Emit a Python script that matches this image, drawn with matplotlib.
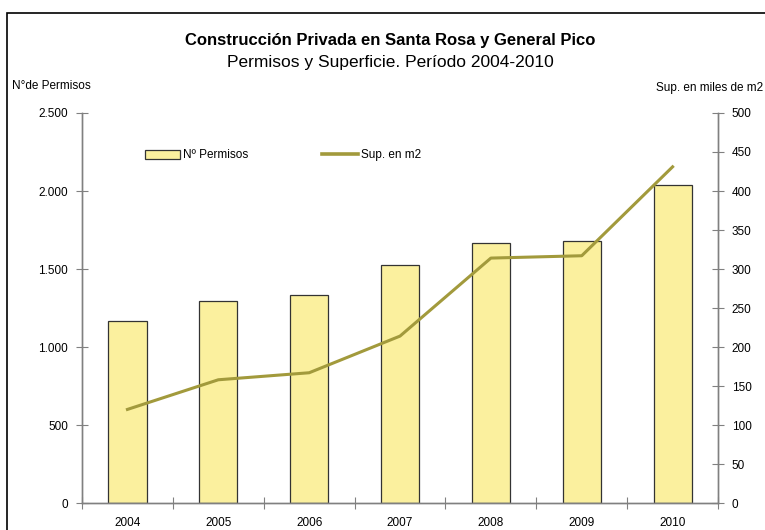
import matplotlib
matplotlib.use("Agg")
import matplotlib.pyplot as plt
from matplotlib.patches import Patch, Rectangle
from matplotlib.lines import Line2D
from matplotlib.ticker import FuncFormatter

plt.rcParams['font.family'] = ['Liberation Sans', 'DejaVu Sans']

years = ['2004', '2005', '2006', '2007', '2008', '2009', '2010']
permisos = [1167, 1295, 1333, 1526, 1667, 1679, 2038]
superficie = [120, 158, 167, 214, 314, 317, 431]

bar_color = '#FBF09E'
line_color = '#A29A3C'
axis_gray = '#808080'

fig = plt.figure(figsize=(7.65, 5.30), dpi=100)
ax = fig.add_axes([0.1072, 0.0509, 0.8314, 0.7359])
ax2 = ax.twinx()

x = list(range(len(years)))
ax.bar(x, permisos, width=0.42, color=bar_color, edgecolor='#333333', linewidth=0.9, zorder=2)
ax2.plot(x, superficie, color=line_color, linewidth=2.2, zorder=3)

ax.set_xlim(-0.5, len(years) - 0.5)
ax.set_ylim(0, 2500)
ax2.set_ylim(0, 500)
ax.set_yticks(range(0, 2501, 500))
ax2.set_yticks(range(0, 501, 50))
ax.yaxis.set_major_formatter(FuncFormatter(lambda v, p: f"{int(v):,}".replace(',', '.')))

# x ticks at category boundaries, labels centred under bars
ax.set_xticks([i - 0.5 for i in range(len(years) + 1)])
ax.set_xticklabels([])
ax.set_xticks(x, minor=True)
ax.set_xticklabels(years, minor=True)
ax.tick_params(axis='x', which='minor', length=0, pad=10, labelsize=8.5)
ax.tick_params(axis='x', which='major', direction='inout', length=8, color=axis_gray)
ax.tick_params(axis='y', direction='inout', length=8, color=axis_gray, labelsize=8.5, pad=6)
ax2.tick_params(axis='y', direction='inout', length=8, color=axis_gray, labelsize=8.5, pad=6)

for a in (ax, ax2):
    a.spines['top'].set_visible(False)
    for s in ('left', 'right', 'bottom'):
        a.spines[s].set_color(axis_gray)
        a.spines[s].set_linewidth(1.0)

fig.text(0.51, 0.923, 'Construcción Privada en Santa Rosa y General Pico',
         ha='center', va='center', fontsize=12, fontweight='bold')
fig.text(0.51, 0.882, 'Permisos y Superficie. Período 2004-2010',
         ha='center', va='center', fontsize=12.5)
fig.text(0.016, 0.838, 'N°de Permisos', ha='left', va='center', fontsize=8.5)
fig.text(0.997, 0.834, 'Sup. en miles de m2', ha='right', va='center', fontsize=8.5)

handles = [Patch(facecolor=bar_color, edgecolor='#333333', linewidth=0.9),
           Line2D([0], [0], color=line_color, linewidth=2.6)]
fig.legend(handles, ['Nº Permisos', 'Sup. en m2'], ncol=2, frameon=False,
           loc='center left', bbox_to_anchor=(0.175, 0.707), fontsize=8.5,
           handlelength=3.0, handleheight=0.8, handletextpad=0.25, columnspacing=6.3)

# outer frame of the chart (only top and left edges are visible in the crop)
fig.patches.append(Rectangle((0.009, -0.05), 1.2, 1.0255, transform=fig.transFigure,
                             fill=False, edgecolor='black', linewidth=1.2))

fig.savefig('out.png', dpi=100)
